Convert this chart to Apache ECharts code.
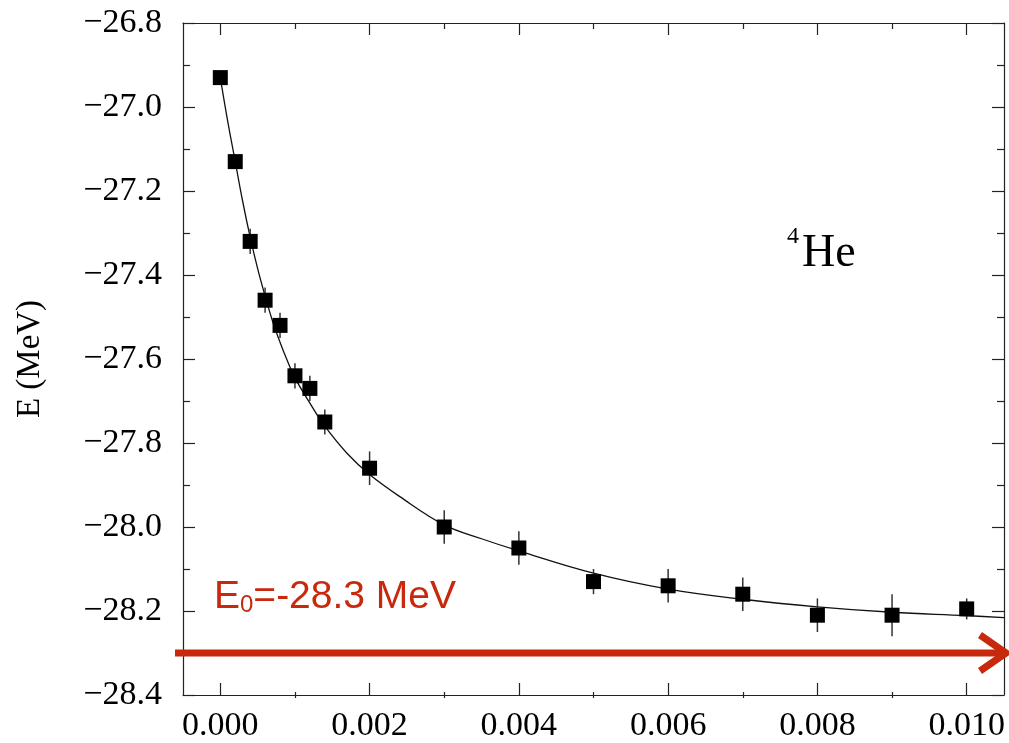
<!DOCTYPE html>
<html>
<head>
<meta charset="utf-8">
<script src="https://cdn.jsdelivr.net/npm/echarts@6/dist/echarts.min.js"></script>
<style>
  html, body { margin: 0; padding: 0; background: #fff; }
  #chart { width: 1009px; height: 743px; }
</style>
</head>
<body>
<div id="chart"></div>
<script>
// Extrapolation of the 4He ground-state energy
const xValues = [0, 0.0002, 0.0004, 0.0006, 0.0008, 0.001, 0.0012, 0.0014, 0.002, 0.003, 0.004, 0.005, 0.006, 0.007, 0.008, 0.009, 0.010];
const energies = [-26.93, -27.13, -27.32, -27.46, -27.52, -27.64, -27.67, -27.75, -27.86, -28.00, -28.05, -28.13, -28.14, -28.16, -28.21, -28.21, -28.195];
const errors = [0.005, 0.015, 0.03, 0.03, 0.03, 0.03, 0.03, 0.03, 0.04, 0.04, 0.04, 0.03, 0.04, 0.04, 0.04, 0.05, 0.025];

// fitted curve
const fitX = [0, 0.0001, 0.0002, 0.0003, 0.0004, 0.0005, 0.0006, 0.0007, 0.0008, 0.0009, 0.001, 0.0012, 0.0014, 0.0017, 0.002, 0.0024, 0.003, 0.0035, 0.004, 0.005, 0.006, 0.007, 0.008, 0.009, 0.010, 0.0105];
const fitE = [-26.93, -27.035, -27.13, -27.225, -27.31, -27.385, -27.45, -27.51, -27.56, -27.605, -27.645, -27.705, -27.76, -27.825, -27.875, -27.927, -27.995, -28.028, -28.057, -28.11, -28.148, -28.172, -28.19, -28.203, -28.211, -28.216];

const E0 = -28.3;
const nucleus = { mass: '4', symbol: 'He' };

const xMajorTicks = [0, 0.002, 0.004, 0.006, 0.008, 0.010];
const xMinorTicks = [0.001, 0.003, 0.005, 0.007, 0.009];
const xRange = [-0.0005, 0.0105];
const yRange = [-28.4, -26.8];

const serif = '"Liberation Serif", "Times New Roman", serif';
const sans = '"Liberation Sans", Arial, sans-serif';
const red = '#c8290c';
const axisColor = '#222';

const gridRect = { left: 183, right: 5, top: 23, bottom: 45, containLabel: false };

function xAxisDef(gridIndex, position, ticks, len, withLine, withLabels) {
  return {
    type: 'value', gridIndex, position,
    min: xRange[0], max: xRange[1],
    axisLine: { show: withLine, onZero: false, lineStyle: { color: axisColor, width: 1.2 } },
    axisTick: { show: true, inside: true, length: len, customValues: ticks, lineStyle: { color: axisColor, width: 1.2 } },
    axisLabel: withLabels ? {
      show: true, customValues: ticks, margin: 14,
      fontFamily: serif, fontSize: 34, color: '#000',
      formatter: v => v.toFixed(3)
    } : { show: false },
    splitLine: { show: false }
  };
}

function yAxisDef(gridIndex, position, withLine, withLabels, withName) {
  return {
    type: 'value', gridIndex, position,
    min: yRange[0], max: yRange[1], interval: 0.2,
    name: withName ? 'E (MeV)' : '',
    nameLocation: 'middle', nameRotate: 90, nameGap: 136,
    nameTextStyle: { fontFamily: serif, fontSize: 33, color: '#000' },
    axisLine: { show: withLine, onZero: false, lineStyle: { color: axisColor, width: 1.2 } },
    axisTick: { show: withLine, inside: true, length: 12, lineStyle: { color: axisColor, width: 1.2 } },
    minorTick: { show: withLine, splitNumber: 2, length: 7, lineStyle: { color: axisColor, width: 1.2 } },
    axisLabel: withLabels ? {
      show: true, margin: 21, fontFamily: serif, fontSize: 34, color: '#000',
      formatter: v => (v < 0 ? '\u2212' : '') + Math.abs(v).toFixed(1)
    } : { show: false },
    splitLine: { show: false }
  };
}

const points = xValues.map((x, i) => [x, energies[i], errors[i]]);
const fitLine = fitX.map((x, i) => [x, fitE[i]]);

const chart = echarts.init(document.getElementById('chart'), null, { renderer: 'canvas' });

chart.setOption({
  backgroundColor: '#fff',
  animation: false,
  grid: [Object.assign({}, gridRect), Object.assign({}, gridRect)],
  xAxis: [
    xAxisDef(0, 'bottom', xMajorTicks, 12, true, true),
    xAxisDef(0, 'top', xMajorTicks, 12, true, false),
    xAxisDef(1, 'bottom', xMinorTicks, 6, false, false),
    xAxisDef(1, 'top', xMinorTicks, 6, false, false)
  ],
  yAxis: [
    yAxisDef(0, 'left', true, true, true),
    yAxisDef(0, 'right', true, false, false),
    { type: 'value', gridIndex: 1, min: yRange[0], max: yRange[1], show: false },
    { type: 'value', gridIndex: 1, min: yRange[0], max: yRange[1], show: false, position: 'right' }
  ],
  series: [
    {
      name: 'fit', type: 'line', xAxisIndex: 0, yAxisIndex: 0,
      data: fitLine, smooth: 0.4, showSymbol: false,
      lineStyle: { color: '#111', width: 1.3 }, z: 2
    },
    {
      name: 'errors', type: 'custom', xAxisIndex: 0, yAxisIndex: 0,
      data: points,
      renderItem: (params, api) => {
        const x = api.value(0), y = api.value(1), e = api.value(2);
        const top = api.coord([x, y + e]);
        const bot = api.coord([x, y - e]);
        return {
          type: 'line',
          shape: { x1: top[0], y1: top[1], x2: bot[0], y2: bot[1] },
          style: { stroke: '#333', lineWidth: 1.5 }
        };
      },
      z: 3
    },
    {
      name: 'E', type: 'scatter', xAxisIndex: 0, yAxisIndex: 0,
      data: points.map(p => [p[0], p[1]]),
      symbol: 'rect', symbolSize: 15,
      itemStyle: { color: '#000', opacity: 1 }, z: 4
    }
  ]
});

// E0 arrow and labels
const p0 = chart.convertToPixel({ gridIndex: 0 }, [xRange[0], E0]);
const yE0 = p0[1];
const tipX = 1006;
const eqText = '=' + E0.toFixed(1) + ' MeV';

chart.setOption({
  graphic: [
    {
      type: 'line', z: 10,
      shape: { x1: 175, y1: yE0, x2: tipX - 2, y2: yE0 },
      style: { stroke: red, lineWidth: 7 }
    },
    {
      type: 'polyline', z: 10,
      shape: { points: [[tipX - 26, yE0 - 18], [tipX, yE0], [tipX - 26, yE0 + 18]] },
      style: { stroke: red, lineWidth: 7, fill: null, lineJoin: 'miter' }
    },
    {
      type: 'text', z: 10, left: 214, top: 578,
      style: {
        text: '{a|E}{b|0}{a|' + eqText + '}',
        rich: {
          a: { fontFamily: sans, fontSize: 39, lineHeight: 39, fill: red },
          b: { fontFamily: sans, fontSize: 24, lineHeight: 24, verticalAlign: 'bottom', fill: red }
        }
      }
    },
    {
      type: 'text', z: 10, left: 787, top: 225,
      style: { text: nucleus.mass, font: '24px ' + serif, fill: '#000' }
    },
    {
      type: 'text', z: 10, left: 802, top: 231,
      style: { text: nucleus.symbol, font: '46px ' + serif, fill: '#000' }
    }
  ]
});
</script>
</body>
</html>
